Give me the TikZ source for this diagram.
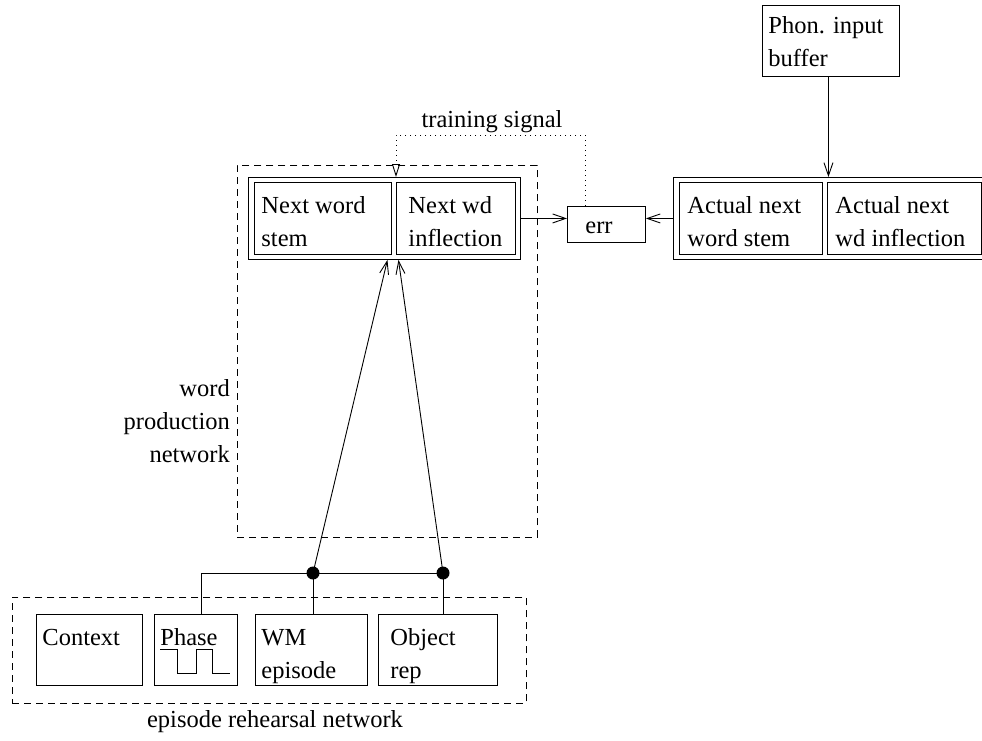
\documentclass[tikz,border=0pt]{standalone}
\usepackage{fontspec}
\setmainfont{Liberation Serif}
\usetikzlibrary{arrows.meta}

% box body: width, height, left pad, first baseline depth, text
\newcommand\cellbody[5]{\parbox[c][#2][t]{#1}{\leftskip=#3\relax\rule{0pt}{#4}#5}}

\tikzset{
  every node/.style={font=\fontsize{24.5}{33}\selectfont},
  cell/.style={draw, line width=0.9pt, inner sep=0pt, anchor=north west},
  frame/.style={draw, line width=0.9pt, inner sep=0pt, anchor=north west},
  region/.style={draw, line width=0.9pt, dash pattern=on 7pt off 5pt, inner sep=0pt, anchor=north west},
  wire/.style={line width=0.9pt},
  arr/.style={line width=0.9pt, -{Straight Barb[length=13pt,width=9pt]}},
  sig/.style={line width=0.9pt, dash pattern=on 1pt off 4pt, -{Triangle[open,length=13pt,width=8pt]}},
  dot/.style={circle, fill, inner sep=0pt, minimum size=13pt},
  lbl/.style={inner sep=0pt}
}

\begin{document}
\begin{tikzpicture}[x=1pt, y=-1pt]
\useasboundingbox (0,0) rectangle (982,740);

% word production network
\node[region, minimum width=300pt, minimum height=372pt] (wpnet) at (237,165) {};
\node[frame, minimum width=272pt, minimum height=82pt] (wpout) at (248,177) {};
\node[cell] (wpin1) at (254,182) {\cellbody{137pt}{72pt}{7pt}{31pt}{Next word\\stem}};
\node[cell] (wpin2) at (396,182) {\cellbody{119pt}{72pt}{12pt}{31pt}{Next wd\\inflection}};
\node[lbl, align=right, anchor=east] (wplbl) at (230,421) {word\\production\\network};

% error unit
\node[cell] (err) at (567,206) {\cellbody{78pt}{36pt}{18pt}{27.5pt}{err}};

% phonological input
\node[cell] (phon) at (762,5) {\cellbody{137pt}{71pt}{6pt}{28pt}{Phon. input\\buffer}};
\node[frame, minimum width=320pt, minimum height=82pt] (actout) at (673,177) {};
\node[cell] (actin1) at (679,182) {\cellbody{143pt}{72pt}{8pt}{31pt}{Actual next\\word stem}};
\node[cell] (actin2) at (827,182) {\cellbody{154pt}{72pt}{8pt}{31pt}{Actual next\\wd inflection}};

% episode rehearsal network
\node[region, minimum width=514pt, minimum height=106pt] (epnet) at (12,597) {};
\node[cell] (ctx) at (36,614) {\cellbody{106pt}{71pt}{6pt}{31pt}{Context}};
\node[cell] (phase) at (154,614) {\cellbody{83pt}{71pt}{6pt}{31pt}{Phase}};
\node[cell] (wm) at (255,614) {\cellbody{112pt}{71pt}{6pt}{31pt}{WM\\episode}};
\node[cell] (obj) at (378,614) {\cellbody{119pt}{71pt}{12pt}{31pt}{Object\\rep}};
\node[lbl] (eplbl) at (275,722) {episode rehearsal network};

% phase square wave
\draw[wire] ([shift={(6,35)}]phase.north west) -- ++(17,0) -- ++(0,24) -- ++(19,0)
  -- ++(0,-24) -- ++(16,0) -- ++(0,24) -- ++(18,0);

% junctions
\node[dot] (d1) at (313,573) {};
\node[dot] (d2) at (443,573) {};
\draw[wire] ([xshift=5.5pt]phase.north) |- (d2.center);
\draw[wire] (d1.center) -- (d1 |- wm.north);
\draw[wire] (d2.center) -- (d2 |- obj.north);
\draw[arr] (d1.center) -- ([xshift=3pt]wpout.south);
\draw[arr] (d2.center) -- ([xshift=14pt]wpout.south);

% error connections
\draw[arr] (wpout.east) -- (wpout.east -| err.west);
\draw[arr] (actout.west |- wpout.east) -- (err.east |- wpout.east);
\draw[arr] ([xshift=-2.5pt]phon.south) -- ([xshift=-2.5pt]phon.south |- actout.north);

% training signal
\draw[sig] ([xshift=18pt]err.north west) -- ++(0,-71) -| (wpin2.west |- wpout.north);
\node[lbl] (siglbl) at (492,122) {training signal};
\end{tikzpicture}
\end{document}
